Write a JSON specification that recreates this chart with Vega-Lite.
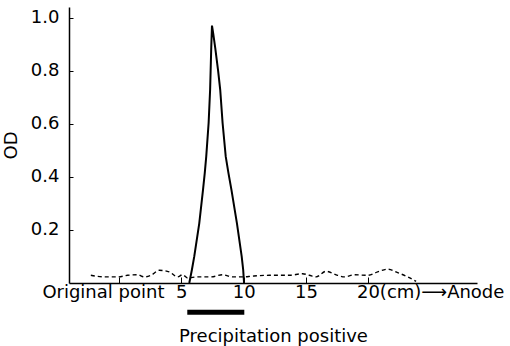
{
  "$schema": "https://vega.github.io/schema/vega-lite/v6.json",
  "width": 408,
  "height": 276,
  "autosize": {"type": "none"},
  "padding": {"left": 69, "top": 7, "right": 33, "bottom": 63},
  "background": "white",
  "config": {"view": {"stroke": null}, "font": "DejaVu Sans"},
  "layer": [
    {
      "data": {"values": [
        {"x": 5.64, "od": 0}, {"x": 5.85, "od": 0.05}, {"x": 6.04, "od": 0.10}, {"x": 6.44, "od": 0.225},
        {"x": 6.74, "od": 0.351}, {"x": 6.88, "od": 0.414}, {"x": 7.0, "od": 0.477}, {"x": 7.19, "od": 0.603},
        {"x": 7.31, "od": 0.728}, {"x": 7.40, "od": 0.886}, {"x": 7.46, "od": 0.97}, {"x": 7.56, "od": 0.94},
        {"x": 7.72, "od": 0.886}, {"x": 7.95, "od": 0.80}, {"x": 8.12, "od": 0.728}, {"x": 8.31, "od": 0.603},
        {"x": 8.56, "od": 0.477}, {"x": 8.78, "od": 0.414}, {"x": 9.02, "od": 0.351}, {"x": 9.46, "od": 0.225},
        {"x": 9.84, "od": 0.10}, {"x": 9.96, "od": 0.05}, {"x": 10.03, "od": 0}
      ]},
      "mark": {"type": "line", "color": "black", "strokeWidth": 2, "interpolate": "linear"},
      "encoding": {
        "x": {"field": "x", "type": "quantitative",
          "scale": {"domain": [-4, 28.7], "nice": false, "zero": false},
          "axis": {
            "values": [0, 5, 10, 15, 20],
            "grid": false,
            "domainColor": "black", "domainWidth": 1.5,
            "tickColor": "black", "tickSize": -6, "tickWidth": 1,
            "labelFontSize": 18, "labelColor": "black", "labelPadding": 6,
            "labelExpr": "datum.value == 0 ? 'Original point' : datum.value == 20 ? '20(cm)⟶Anode' : datum.label",
            "labelAlign": {"condition": {"test": "datum.value == 20", "value": "left"}, "value": "center"},
            "labelOffset": {"condition": [{"test": "datum.value == 0", "value": -16}, {"test": "datum.value == 20", "value": -12}], "value": 0},
            "title": "Precipitation positive",
            "titleFontSize": 18, "titleFontWeight": "normal", "titleColor": "black", "titlePadding": 26
          }},
        "y": {"field": "od", "type": "quantitative",
          "scale": {"domain": [0, 1.04], "nice": false},
          "axis": {
            "values": [0.2, 0.4, 0.6, 0.8, 1.0],
            "format": ".1f",
            "grid": false,
            "domainColor": "black", "domainWidth": 1.5,
            "tickColor": "black", "tickSize": -4, "tickWidth": 1,
            "labelFontSize": 18, "labelColor": "black", "labelPadding": 14,
            "title": "OD",
            "titleFontSize": 18, "titleFontWeight": "normal", "titleColor": "black", "titlePadding": 10
          }}
      }
    },
    {
      "data": {"values": [
        {"x": -2.25, "od": 0.029}, {"x": -1.18, "od": 0.023}, {"x": -0.11, "od": 0.023}, {"x": 0.69, "od": 0.029},
        {"x": 1.49, "od": 0.031}, {"x": 2.03, "od": 0.023}, {"x": 2.57, "od": 0.029}, {"x": 3.23, "od": 0.048},
        {"x": 4.03, "od": 0.042}, {"x": 4.70, "od": 0.023}, {"x": 5.10, "od": 0.031}, {"x": 5.50, "od": 0.019},
        {"x": 6.30, "od": 0.023}, {"x": 7.38, "od": 0.023}, {"x": 8.31, "od": 0.031}, {"x": 9.11, "od": 0.023},
        {"x": 9.91, "od": 0.023}, {"x": 10.71, "od": 0.026}, {"x": 12.05, "od": 0.029}, {"x": 13.65, "od": 0.029},
        {"x": 14.72, "od": 0.035}, {"x": 15.26, "od": 0.029}, {"x": 15.80, "od": 0.023}, {"x": 16.60, "od": 0.044},
        {"x": 17.53, "od": 0.029}, {"x": 18.07, "od": 0.023}, {"x": 18.87, "od": 0.031}, {"x": 19.94, "od": 0.029},
        {"x": 20.74, "od": 0.042}, {"x": 21.54, "od": 0.052}, {"x": 22.34, "od": 0.039}, {"x": 23.14, "od": 0.023},
        {"x": 23.82, "od": 0.006}
      ]},
      "mark": {"type": "line", "color": "black", "strokeWidth": 1.4, "strokeDash": [4, 3], "interpolate": "monotone"},
      "encoding": {
        "x": {"field": "x", "type": "quantitative"},
        "y": {"field": "od", "type": "quantitative"}
      }
    },
    {
      "data": {"values": [{"start": 5.48, "end": 10.05, "od": -0.11}]},
      "mark": {"type": "rule", "color": "black", "strokeWidth": 5, "clip": false},
      "encoding": {
        "x": {"field": "start", "type": "quantitative"},
        "x2": {"field": "end"},
        "y": {"field": "od", "type": "quantitative"}
      }
    }
  ]
}
